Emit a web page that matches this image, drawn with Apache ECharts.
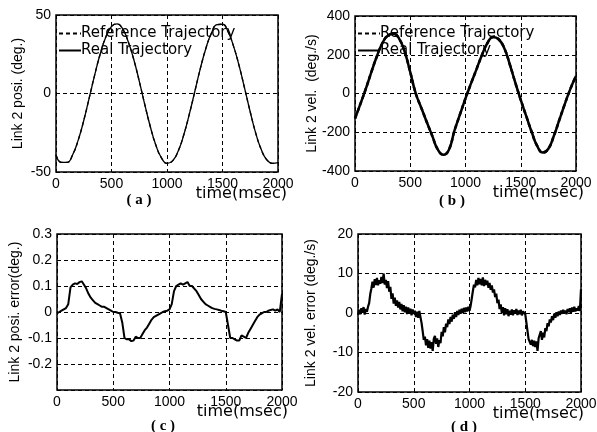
<!DOCTYPE html>
<html><head><meta charset="utf-8">
<script src="https://cdn.jsdelivr.net/npm/echarts@6/dist/echarts.min.js"></script>
<style>html,body{margin:0;padding:0;background:#fff}#c{width:597px;height:432px}</style>
</head><body><div id="c"></div>
<script>
// sample times (msec)
const timeA = Array.from({length: 41}, (_, i) => i * 50);   // (a),(b)
const timeC = Array.from({length: 101}, (_, i) => i * 20);  // (c)
const timeD = Array.from({length: 201}, (_, i) => i * 10);  // (d)

// (a) link 2 position (deg.) -- reference and real coincide at this scale
const posReal = [-39.0,-43.9,-43.9,-39.0,-29.7,-17.2,-2.6,12.2,25.6,36.2,42.7,44.4,41.2,33.1,21.8,7.9,-7.1,-21.2,-33.0,-41.0,-44.5,-42.9,-36.8,-26.6,-13.4,1.1,15.8,28.7,38.4,43.8,44.1,39.3,30.0,17.6,3.1,-11.8,-25.4,-35.9,-42.3,-44.5,-44.0];
const posReference = [-39.0,-43.9,-43.9,-39.0,-29.7,-17.2,-2.6,12.2,25.6,36.2,42.7,44.4,41.2,33.1,21.8,7.9,-7.1,-21.2,-33.0,-41.0,-44.5,-42.9,-36.8,-26.6,-13.4,1.1,15.8,28.7,38.4,43.8,44.1,39.3,30.0,17.6,3.1,-11.8,-25.4,-35.9,-42.3,-44.5,-44.0];

// (b) link 2 velocity (deg./s)
const velReal = [-129,-52,28,114,195,262,300,308,282,215,110,0,-74,-148,-220,-290,-316,-290,-192,-108,-25,52,126,200,262,292,280,235,152,57,-33,-117,-200,-272,-305,-285,-218,-135,-52,25,90];
const velReference = [-129,-52,28,114,195,262,300,308,282,215,110,0,-74,-148,-220,-290,-316,-290,-192,-108,-25,52,126,200,262,292,280,235,152,57,-33,-117,-200,-272,-305,-285,-218,-135,-52,25,90];

// (c) link 2 position error (deg.)
const posError = [
 -0.005,0.0,0.005,0.01,0.015,0.03,0.095,0.105,0.11,0.108,
 0.115,0.118,0.105,0.09,0.07,0.055,0.045,0.035,0.03,0.025,
 0.02,0.02,0.015,0.01,0.005,0.0,0.0,-0.003,-0.005,-0.04,
 -0.1,-0.105,-0.105,-0.112,-0.11,-0.095,-0.1,-0.1,-0.085,-0.07,
 -0.06,-0.045,-0.03,-0.02,-0.015,-0.01,-0.005,0.0,0.003,0.005,
 0.01,0.03,0.08,0.1,0.105,0.11,0.105,0.11,0.115,0.1,
 0.1,0.09,0.08,0.065,0.05,0.04,0.03,0.025,0.02,0.015,
 0.012,0.01,0.008,0.005,0.003,0.0,-0.05,-0.1,-0.1,-0.105,
 -0.11,-0.11,-0.09,-0.095,-0.1,-0.08,-0.065,-0.05,-0.035,-0.02,
 -0.01,-0.005,0.0,0.0,0.005,0.008,0.01,0.005,0.01,0.0,
 0.07];

// (d) link 2 velocity error (deg./s)
const velError = [
 -0.5,0.8,-0.3,1.2,0.1,1.5,-0.4,1.0,0.3,1.6,
 2.5,4.8,6.2,7.9,6.4,8.6,7.1,8.9,7.0,8.3,
 7.4,9.1,7.6,10.0,7.2,8.4,6.3,8.1,5.4,6.6,
 3.6,5.0,2.4,3.9,1.8,3.2,1.4,2.8,0.9,2.3,
 0.4,2.0,0.2,1.6,-0.3,1.4,0.0,1.1,-0.6,0.9,
 -0.2,0.6,-1.0,0.3,-1.2,0.5,0.8,-2.5,-4.6,-6.8,
 -6.0,-8.2,-6.6,-8.8,-7.0,-9.0,-7.4,-9.6,-6.5,-5.8,
 -7.8,-6.4,-8.6,-6.9,-7.6,-4.8,-5.9,-3.6,-4.9,-2.7,
 -3.6,-1.6,-2.8,-1.0,-2.2,-0.4,-1.5,0.2,-1.0,0.5,
 -0.5,0.8,-0.2,1.1,0.0,1.3,0.2,1.4,0.4,1.6,
 0.6,1.8,3.6,5.5,7.2,6.5,8.4,7.0,8.9,7.3,
 8.6,7.0,9.0,6.8,8.4,7.1,8.2,6.4,7.6,5.9,
 7.0,5.2,6.0,4.0,4.9,2.5,3.4,1.0,2.2,0.0,
 1.5,-0.6,1.2,-0.3,1.0,-0.8,0.6,-0.4,0.9,-0.6,
 0.7,-0.2,1.0,-0.5,0.6,-0.3,0.8,-0.6,0.4,0.5,
 -0.3,-2.4,-4.5,-6.6,-6.2,-8.0,-6.8,-8.4,-7.0,-8.6,
 -7.2,-9.6,-6.4,-6.9,-4.6,-6.8,-5.0,-6.2,-3.8,-4.6,
 -2.6,-3.4,-1.6,-2.4,-0.8,-1.8,-0.2,-1.2,0.2,-0.8,
 0.4,-0.5,0.6,-0.2,0.8,0.0,0.6,-0.3,1.0,0.2,
 1.2,0.0,1.4,0.3,1.6,0.4,1.2,0.6,1.8,0.5,
 6.0];

// axis ticks
const xTicks = {min: 0, max: 2000, interval: 500};
const yTicksA = {min: -50, max: 50, interval: 50};
const yTicksB = {min: -400, max: 400, interval: 200};
const yTicksC = {min: -0.3, max: 0.3, interval: 0.1};
const yTicksD = {min: -20, max: 20, interval: 10};

const yNames = ['Link 2 posi. (deg.)', 'Link 2 vel.  (deg./s)', 'Link 2 posi. error(deg.)', 'Link 2 vel. error (deg./s)'];
const panelLabels = ['( a )', '( b )', '( c )', '( d )'];
const xName = 'time(msec)';
const legendNames = ['Reference Trajectory', 'Real Trajectory'];

const pair = (t, v) => v.map((y, i) => [t[i], y]);

const FONT = '"Liberation Sans", Arial, sans-serif';
const WIDE = '"DejaVu Sans", sans-serif';
const grids = [
  {left: 56, top: 15, width: 222, height: 157},
  {left: 355, top: 16, width: 221, height: 155},
  {left: 57, top: 234, width: 225, height: 156},
  {left: 358, top: 234, width: 223, height: 158}
];
const yGaps = [31, 36, 35, 40];
const xGaps = [9, 8, 6, 3];
const yT = [yTicksA, yTicksB, yTicksC, yTicksD];
const dashed = {color: '#000', type: [4, 3], width: 1};

const legendBase = {data: legendNames, orient: 'vertical', top: 26, itemWidth: 22, itemHeight: 10, itemGap: 2, padding: 0,
  itemStyle: {opacity: 0},
  textStyle: {color: '#000', fontSize: 15, fontFamily: WIDE, padding: [0, 0, 0, -5]}};

const option = {
  animation: false,
  backgroundColor: '#fff',
  grid: grids.map(g => Object.assign({show: true, borderColor: '#000', borderWidth: 1.5, backgroundColor: 'transparent', containLabel: false, outerBoundsMode: 'none'}, g)),
  xAxis: grids.map((g, i) => Object.assign({
    type: 'value', gridIndex: i, position: 'bottom',
    axisLine: {show: false, onZero: false}, axisTick: {show: false},
    splitLine: {show: true, lineStyle: dashed},
    axisLabel: {color: '#000', fontSize: 14, fontFamily: FONT, margin: 5, formatter: v => String(v)},
    name: xName, nameLocation: 'end', nameGap: xGaps[i], nameMoveOverlap: false,
    nameTextStyle: {color: '#000', fontSize: 16, fontFamily: WIDE, align: 'right', verticalAlign: 'top', padding: [14, 0, 0, 0]}
  }, xTicks)),
  yAxis: grids.map((g, i) => Object.assign({
    type: 'value', gridIndex: i,
    axisLine: {show: false, onZero: false}, axisTick: {show: false},
    splitLine: {show: true, lineStyle: dashed},
    axisLabel: {color: '#000', fontSize: 14, fontFamily: FONT, margin: 5,
      formatter: i === 2 ? (v => (Math.abs(v + 0.3) < 1e-6 ? '' : String(+v.toFixed(1)))) : (v => String(v))},
    name: yNames[i], nameLocation: 'middle', nameGap: yGaps[i], nameMoveOverlap: false,
    nameTextStyle: {color: '#000', fontSize: 14, fontFamily: FONT}
  }, yT[i])),
  legend: [
    Object.assign({left: 58}, legendBase),
    Object.assign({left: 357}, legendBase)
  ],
  graphic: [
    {type: 'text', x: 139, y: 200, style: {text: panelLabels[0], align: 'center', verticalAlign: 'middle', font: 'bold 15px "Liberation Serif", serif', fill: '#000'}},
    {type: 'text', x: 452, y: 201, style: {text: panelLabels[1], align: 'center', verticalAlign: 'middle', font: 'bold 15px "Liberation Serif", serif', fill: '#000'}},
    {type: 'text', x: 163, y: 426, style: {text: panelLabels[2], align: 'center', verticalAlign: 'middle', font: 'bold 15px "Liberation Serif", serif', fill: '#000'}},
    {type: 'text', x: 464, y: 427, style: {text: panelLabels[3], align: 'center', verticalAlign: 'middle', font: 'bold 15px "Liberation Serif", serif', fill: '#000'}}
  ],
  series: [
    {name: legendNames[0], type: 'line', xAxisIndex: 0, yAxisIndex: 0, data: pair(timeA, posReference), smooth: true, symbol: 'none', lineStyle: {color: '#000', width: 1.3, type: [4, 3]}, itemStyle: {color: '#000'}},
    {name: legendNames[1], type: 'line', xAxisIndex: 0, yAxisIndex: 0, data: pair(timeA, posReal), smooth: true, symbol: 'none', lineStyle: {color: '#000', width: 1.3}, itemStyle: {color: '#000'}},
    {name: legendNames[0], type: 'line', xAxisIndex: 1, yAxisIndex: 1, data: pair(timeA, velReference), smooth: true, symbol: 'none', lineStyle: {color: '#000', width: 2.5, type: [4, 3]}, itemStyle: {color: '#000'}},
    {name: legendNames[1], type: 'line', xAxisIndex: 1, yAxisIndex: 1, data: pair(timeA, velReal), smooth: true, symbol: 'none', lineStyle: {color: '#000', width: 2.5}, itemStyle: {color: '#000'}},
    {name: 'Position error', type: 'line', xAxisIndex: 2, yAxisIndex: 2, data: pair(timeC, posError), symbol: 'none', lineStyle: {color: '#000', width: 2}},
    {name: 'Velocity error', type: 'line', xAxisIndex: 3, yAxisIndex: 3, data: pair(timeD, velError), symbol: 'none', lineStyle: {color: '#000', width: 2.2}}
  ]
};
const chart = echarts.init(document.getElementById('c'), null, {renderer: 'canvas'});
chart.setOption(option);
</script>
</body></html>
